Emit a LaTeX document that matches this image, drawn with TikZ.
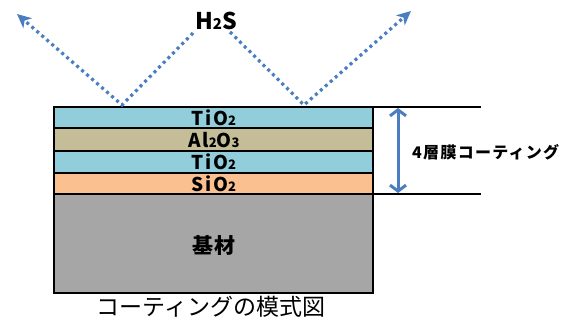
\documentclass[tikz,border=0pt]{standalone}
\usepackage{fontspec}
\setmainfont{Noto Sans CJK JP}
\newfontfamily\jp{Noto Sans CJK JP}
\newfontfamily\jpsp[LetterSpace=8]{Noto Sans CJK JP}
\usetikzlibrary{arrows.meta}
\definecolor{arrowblue}{RGB}{74,126,193}
\definecolor{tiblue}{RGB}{146,205,220}
\definecolor{alcol}{RGB}{196,189,151}
\definecolor{sicol}{RGB}{250,192,144}
\definecolor{basecol}{RGB}{166,166,166}
\newcommand{\sbn}[1]{{\fontsize{13}{13}\selectfont #1}}
\newcommand{\sbh}[1]{{\fontsize{15}{15}\selectfont #1}}
\tikzset{
  layer/.style={draw=black, line width=1.6pt},
  ltext/.style={font=\jpsp\bfseries\fontsize{19}{19}\selectfont, inner sep=0pt},
  gas/.style={arrowblue, line width=3.2pt, dash pattern=on 3pt off 3.6pt},
  gastip/.style={-{Stealth[length=14pt,width=13pt,inset=4pt]}},
  dim/.style={arrowblue, line width=3pt, {Straight Barb[length=6pt,width=16pt]}-{Straight Barb[length=6pt,width=16pt]}},
  hline/.style={black, line width=1.6pt}
}
\begin{document}
\begin{tikzpicture}[x=1pt,y=-1pt]
\useasboundingbox (0,0) rectangle (579,324);
% layers
\fill[tiblue] (54,107) rectangle (373,128);
\fill[alcol] (54,128) rectangle (373,151);
\fill[tiblue] (54,151) rectangle (373,173);
\fill[sicol] (54,173) rectangle (373,194);
\fill[basecol] (54,194) rectangle (373,293);
\draw[layer] (54,107) rectangle (373,293);
\draw[layer] (54,128) -- (373,128);
\draw[layer] (54,151) -- (373,151);
\draw[layer] (54,173) -- (373,173);
\draw[layer] (54,194) -- (373,194);
\node[ltext] (t1) at (214,118) {TiO\sbn{2}};
\node[ltext] (al) at (214,140) {Al\sbn{2}O\sbn{3}};
\node[ltext] (t2) at (214,162) {TiO\sbn{2}};
\node[ltext] (si) at (214,184) {SiO\sbn{2}};
\node[font=\jpsp\bfseries\fontsize{21}{21}\selectfont, inner sep=0pt] (base) at (214,246) {基材};
% dimension
\coordinate (ht) at (373,107);
\coordinate (hte) at (481,107);
\coordinate (hb) at (373,194);
\coordinate (hbe) at (481,194);
\draw[hline] (ht) -- (hte);
\draw[hline] (hb) -- (hbe);
\coordinate (dt) at (398,108);
\coordinate (db) at (398,193);
\draw[dim] (dt) -- (db);
\node[font=\jpsp\bfseries\fontsize{16}{16}\selectfont, anchor=west, inner sep=0pt] (lab) at (412,152) {4層膜コーティング};
% gas arrows
\node[font=\jpsp\bfseries\fontsize{23}{23}\selectfont, inner sep=0pt] (h2s) at (216,21) {H\sbh{2}S};
\coordinate (a0) at (193,33);
\coordinate (a1) at (122,105);
\coordinate (a2) at (17,14);
\coordinate (b0) at (230,32);
\coordinate (b1) at (304,105);
\coordinate (b2) at (411,11);
\draw[gas, gastip] (a0) -- (a1) -- (a2);
\draw[gas, gastip] (b0) -- (b1) -- (b2);
% caption
\node[font=\jp\fontsize{23}{23}\selectfont, inner sep=0pt] (cap) at (211,307) {コーティングの模式図};
\end{tikzpicture}
\end{document}
